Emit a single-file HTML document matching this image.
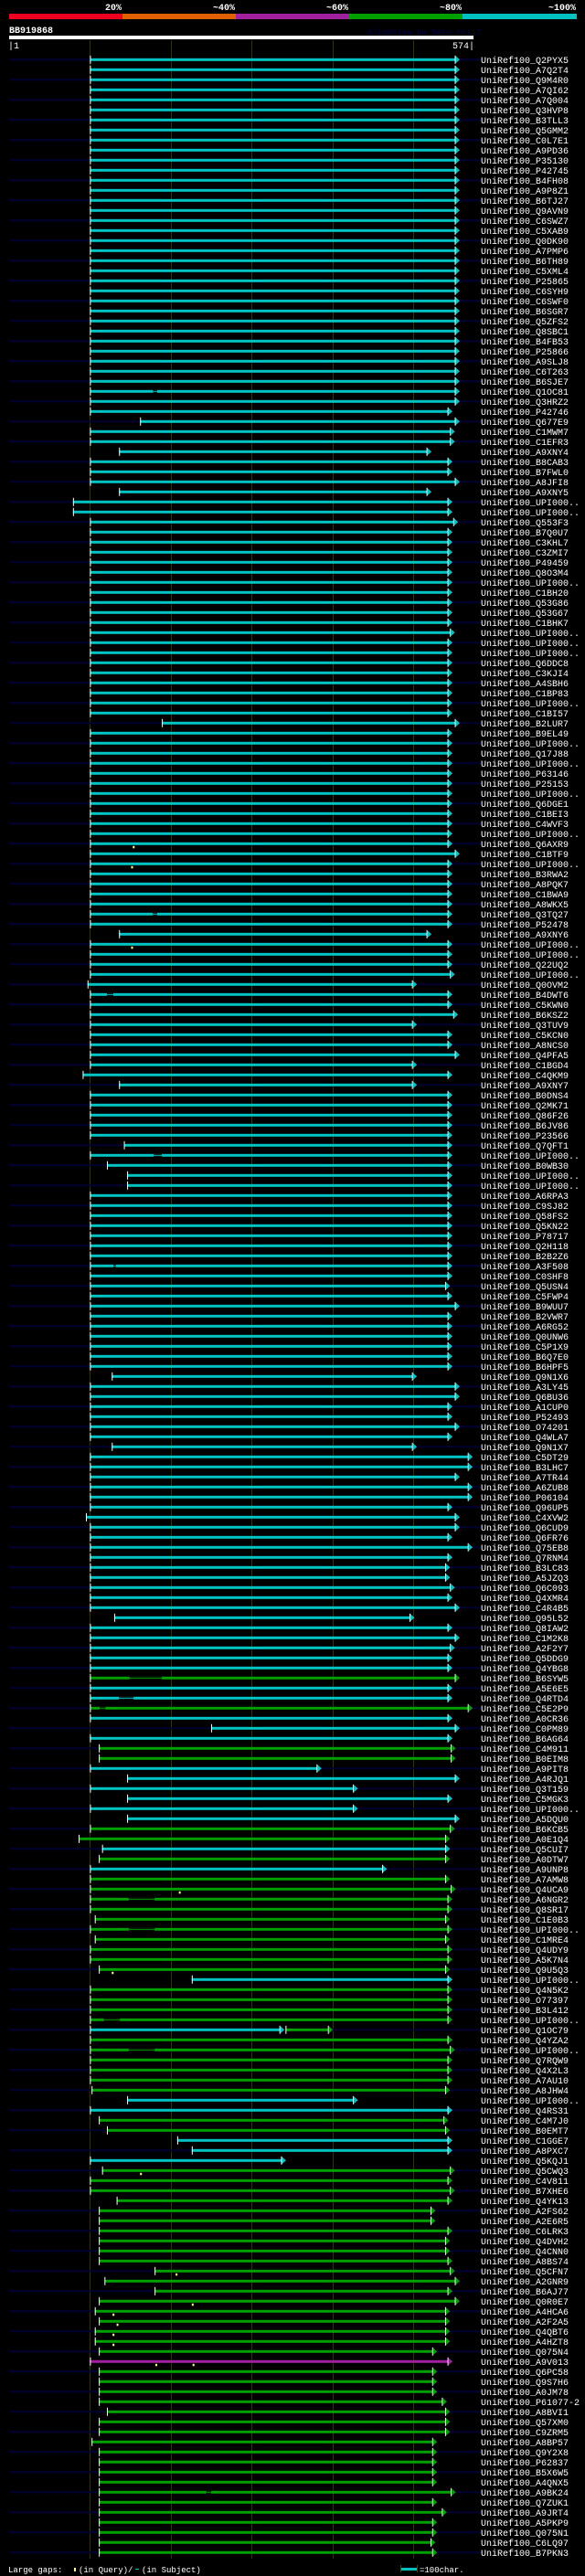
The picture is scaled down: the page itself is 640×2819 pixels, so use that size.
<!DOCTYPE html>
<html><head><meta charset="utf-8"><style>
html,body{margin:0;padding:0;background:#000;}
svg{display:block;}
text{font-family:"Liberation Mono",monospace;}
</style></head><body>
<svg id="chart" width="640" height="2819" viewBox="0 0 640 2819" xmlns="http://www.w3.org/2000/svg">
<rect x="0" y="0" width="640" height="2819" fill="#000"/>
<g>
<text x="133" y="11" text-anchor="end" font-size="10" font-weight="bold" fill="#fff">20%</text>
<text x="257" y="11" text-anchor="end" font-size="10" font-weight="bold" fill="#fff">~40%</text>
<text x="381" y="11" text-anchor="end" font-size="10" font-weight="bold" fill="#fff">~60%</text>
<text x="505" y="11" text-anchor="end" font-size="10" font-weight="bold" fill="#fff">~80%</text>
<text x="630" y="11" text-anchor="end" font-size="10" font-weight="bold" fill="#fff">~100%</text>
<rect x="10" y="15" width="124" height="6" fill="#f00020"/>
<rect x="134" y="15" width="124" height="6" fill="#e06000"/>
<rect x="258" y="15" width="124" height="6" fill="#a020a0"/>
<rect x="382" y="15" width="124" height="6" fill="#00a000"/>
<rect x="506" y="15" width="125" height="6" fill="#00c0c0"/>
</g>
<text x="10" y="36" font-size="10" font-weight="bold" fill="#fff">BB919868</text>
<text x="402" y="38" font-size="9" fill="#000050">AlignView.pm Beta rel.7</text>
<rect x="10" y="39" width="508" height="4" fill="#fff"/>
<text x="9" y="53" font-size="10" fill="#fff">|1</text>
<text x="519" y="53" text-anchor="end" font-size="10" fill="#fff">574|</text>
<g id="grid"></g>
<g id="rows"></g>
<g>
<text x="9" y="2815" font-size="9" fill="#fff">Large gaps:</text>
<rect x="81" y="2810" width="2" height="4" fill="#ffff80"/>
<text x="86" y="2815" font-size="9" fill="#fff">(in Query)/</text>
<rect x="148" y="2811" width="4" height="1" fill="#00c0c0"/>
<text x="155" y="2815" font-size="9" fill="#fff">(in Subject)</text>
<rect x="439" y="2810" width="17" height="3" fill="#00c0c0"/>
<rect x="438" y="2807" width="1" height="8" fill="#444400"/>
<rect x="456" y="2807" width="1" height="8" fill="#444400"/>
<text x="459" y="2815" font-size="9" fill="#fff">=100char.</text>
</g>
</svg>
<script>
const queryLength = 574;
const gridTicks = [100, 200, 300, 400, 500];
const names = ("Q2PYX5 A7Q2T4 Q9M4R0 A7QI62 A7Q004 Q3HVP8 B3TLL3 Q5GMM2 C0L7E1 A9PD36 " +
"P35130 P42745 B4FH08 A9P8Z1 B6TJ27 Q9AVN9 C6SWZ7 C5XAB9 Q0DK90 A7PMP6 " +
"B6TH89 C5XML4 P25865 C6SYH9 C6SWF0 B6SGR7 Q5ZFS2 Q8SBC1 B4FB53 P25866 " +
"A9SLJ8 C6T263 B6SJE7 Q1OC81 Q3HRZ2 P42746 Q677E9 C1MWM7 C1EFR3 A9XNY4 " +
"B8CAB3 B7FWL0 A8JFI8 A9XNY5 UPI000.. UPI000.. Q553F3 B7Q0U7 C3KHL7 C3ZMI7 " +
"P49459 Q8O3M4 UPI000.. C1BH20 Q53G86 Q53G67 C1BHK7 UPI000.. UPI000.. UPI000.. " +
"Q6DDC8 C3KJI4 A4SBH6 C1BP83 UPI000.. C1BI57 B2LUR7 B9EL49 UPI000.. Q17J88 " +
"UPI000.. P63146 P25153 UPI000.. Q6DGE1 C1BEI3 C4WVF3 UPI000.. Q6AXR9 C1BTF9 " +
"UPI000.. B3RWA2 A8PQK7 C1BWA9 A8WKX5 Q3TQ27 P52478 A9XNY6 UPI000.. UPI000.. " +
"Q22UQ2 UPI000.. Q0OVM2 B4DWT6 C5KWN0 B6KSZ2 Q3TUV9 C5KCN0 A8NCS0 Q4PFA5 " +
"C1BGD4 C4QKM9 A9XNY7 B0DNS4 Q2MK71 Q86F26 B6JV86 P23566 Q7QFT1 UPI000.. " +
"B0WB30 UPI000.. UPI000.. A6RPA3 C9SJ82 Q58FS2 Q5KN22 P78717 Q2H118 B2B2Z6 " +
"A3F508 C0SHF8 Q5USN4 C5FWP4 B9WUU7 B2VWR7 A6RG52 Q0UNW6 C5P1X9 B6Q7E0 " +
"B6HPF5 Q9N1X6 A3LY45 Q6BU36 A1CUP0 P52493 O74201 Q4WLA7 Q9N1X7 C5DT29 " +
"B3LHC7 A7TR44 A6ZUB8 P06104 Q96UP5 C4XVW2 Q6CUD9 Q6FR76 Q75EB8 Q7RNM4 " +
"B3LC83 A5JZQ3 Q6C093 Q4XMR4 C4R4B5 Q95L52 Q8IAW2 C1M2K8 A2F2Y7 Q5DDG9 " +
"Q4YBG8 B6SYW5 A5E6E5 Q4RTD4 C5E2P9 A0CR36 C0PM89 B6AG64 C4M911 B0EIM8 " +
"A9PIT8 A4RJQ1 Q3T159 C5MGK3 UPI000.. A5DQU0 B6KCB5 A0E1Q4 Q5CUI7 A0DTW7 " +
"A9UNP8 A7AMW8 Q4UCA9 A6NGR2 Q8SR17 C1E0B3 UPI000.. C1MRE4 Q4UDY9 A5K7N4 " +
"Q9U5Q3 UPI000.. Q4N5K2 O77397 B3L412 UPI000.. Q1OC79 Q4YZA2 UPI000.. Q7RQW9 " +
"Q4X2L3 A7AU10 A8JHW4 UPI000.. Q4RS31 C4M7J0 B0EMT7 C1GGE7 A8PXC7 Q5KQJ1 " +
"Q5CWQ3 C4V811 B7XHE6 Q4YK13 A2FS62 A2E6R5 C6LRK3 Q4DVH2 Q4CNN0 A8BS74 " +
"Q5CFN7 A2GNR9 B6AJ77 Q0R0E7 A4HCA6 A2F2A5 Q4QBT6 A4HZT8 Q075N4 A9V013 " +
"Q6PC58 Q9S7H6 A0JM78 P61077-2 A8BVI1 Q57XM0 C9ZRM5 A8BP57 Q9Y2X8 P62837 " +
"B5X6W5 A4QNX5 A9BK24 Q7ZUK1 A9JRT4 A5PKP9 Q075N1 C6LQ97 B7PKN3").split(" ");
const starts = [
100,100,100,100,100,100,100,100,100,100,
100,100,100,100,100,100,100,100,100,100,
100,100,100,100,100,100,100,100,100,100,
100,100,100,100,100,100,162,100,100,136,
100,100,100,136,79,79,100,100,100,100,
100,100,100,100,100,100,100,100,100,100,
100,100,100,100,100,100,189,100,100,100,
100,100,100,100,100,100,100,100,100,100,
100,100,100,100,100,100,100,136,100,100,
100,100,97,100,100,100,100,100,100,100,
100,91,136,100,100,100,100,100,142,100,
121,146,146,100,100,100,100,100,100,100,
100,100,100,100,100,100,100,100,100,100,
100,127,100,100,100,100,100,100,127,100,
100,100,100,100,100,95,100,100,100,100,
100,100,100,100,100,130,100,100,100,100,
100,100,100,100,100,100,250,100,111,111,
100,146,100,146,100,146,100,86,115,111,
100,100,100,100,100,106,100,106,100,100,
111,226,100,100,100,100,100,100,100,100,
100,100,102,146,100,111,121,208,226,100,
115,100,100,133,111,111,111,111,111,111,
180,118,180,111,106,111,106,106,111,100,
111,111,111,111,121,111,111,102,111,111,
111,111,111,111,111,111,111,111,111];
const ends = [
552,552,552,552,552,552,552,552,552,552,
552,552,552,552,552,552,552,552,552,552,
552,552,552,552,552,552,552,552,552,552,
552,552,552,552,552,543,552,546,546,517,
543,543,552,517,543,543,550,543,543,543,
543,543,543,543,543,543,543,546,543,543,
543,543,543,543,543,543,552,543,543,543,
543,543,543,543,543,543,543,543,543,552,
543,543,543,543,543,543,543,517,543,543,
543,546,499,543,543,550,499,543,543,552,
499,543,499,543,543,543,543,543,543,543,
543,543,543,543,543,543,543,543,543,543,
543,543,540,543,552,543,543,543,543,543,
543,499,552,552,543,543,552,543,499,568,
568,552,568,568,543,552,552,543,568,543,
540,540,546,543,552,496,543,552,546,543,
543,552,543,543,568,543,552,543,547,547,
381,552,426,543,426,552,546,540,540,540,
462,540,547,543,543,540,543,540,543,543,
540,543,543,543,543,543,335,543,546,543,
543,543,540,426,543,538,540,543,543,337,
546,543,546,543,522,522,543,540,540,543,
546,552,543,552,540,540,540,540,524,543,
524,524,524,536,540,540,540,524,524,524,
524,524,547,524,536,524,524,522,524];
const colors = ("cccccccccccccccccccccccccccccccccccccccccccccccccccccccccccccccccccccccccccccccc" +
"cccccccccccccccccccccccccccccccccccccccccccccccccccccccccccccccccccccccccccccccc" +
"cgccgcccgg" + "ccccccggcg" + "cggggggggg" + "gcggggcggg" + "gggccggccc" +
"gggggggggg" + "gggggggggm" + "gggggggggg" + "ggggggggg").split("");
const gaps = {33:[[178,183]],85:[[178,183]],93:[[121,129]],109:[[179,189]],120:[[129,132]],
161:[[149,189]],163:[[136,154]],164:[[112,119]],183:[[148,180]],186:[[148,180]],
195:[[117,137]],198:[[148,180]],242:[[244,250]]};
const inserts = {78:[153],80:[151],88:[151],182:[210],190:[127],210:[162],220:[206],
223:[226],224:[128],225:[133],226:[128],227:[128],229:[181,227]};
const extraSeg = {196:[342,395,"g"]};

const palette = {c:"#00c4c4", g:"#00a000", m:"#a020a0"};
const NS = "http://www.w3.org/2000/svg";
const X0 = 10, X1 = 517.5;
function xs(c){ return X0 + c * (X1 - X0) / queryLength; }
function rowY(i){ return 65.3 + i * 11; }
function mk(tag, attrs, parent){
  const el = document.createElementNS(NS, tag);
  for (const k in attrs) el.setAttribute(k, attrs[k]);
  parent.appendChild(el);
  return el;
}
const grid = document.getElementById("grid");
gridTicks.forEach(t => {
  const l = mk("rect", {x: Math.round(xs(t)), y: 44, width: 1, height: 2756, fill: "#333300"}, grid);
  
  
});
const rows = document.getElementById("rows");
function drawSeg(g, s, e, col, cy, gl){
  const a = xs(s), b = xs(e);
  const bar = mk("rect", {x: a, y: cy - 1.5, width: Math.max(0, b - a), height: 3, fill: col}, g);
  
  
  (gl || []).forEach(gp => {
    const ga = xs(gp[0]), gb = xs(gp[1]);
    const cut = mk("rect", {x: ga, y: cy - 1.5, width: gb - ga, height: 3, fill: "#000"}, g);
    
    
    const thin = mk("rect", {x: ga, y: cy - 0.5, width: gb - ga, height: 1, fill: col}, g);
    
    
  });
  const tick = mk("rect", {x: a, y: cy - 4.5, width: 1, height: 9, fill: "#fff"}, g);
  
  
  const base = mk("rect", {x: b - 0.5, y: cy - 4.5, width: 1, height: 9, fill: "#fff"}, g);
  
  
  const arr = mk("polygon", {points: (b + 0.5) + "," + (cy - 4) + " " + (b + 5) + "," + cy + " " + (b + 0.5) + "," + (cy + 4), fill: col}, g);
  
  
}
for (let i = 0; i < names.length; i++) {
  const cy = rowY(i);
  const g = mk("g", {}, rows);
  
  
  if (i % 2 === 0) {
    const bg = mk("rect", {x: 10, y: cy - 1, width: 517, height: 2, fill: "#000033"}, g);
    
    
  }
  const col = palette[colors[i]] || palette.c;
  drawSeg(g, starts[i], ends[i], col, cy, gaps[i]);
  if (extraSeg[i]) drawSeg(g, extraSeg[i][0], extraSeg[i][1], palette[extraSeg[i][2]], cy, null);
  (inserts[i] || []).forEach(p => {
    const m = mk("rect", {x: xs(p), y: cy + 2.5, width: 2, height: 2.5, fill: "#ffff80"}, g);
    
    
  });
  const t = mk("text", {x: 526, y: cy + 3.5, "font-size": 10, fill: "#fff"}, g);
  t.textContent = "UniRef100_" + names[i];
  
  
}
</script>
</body></html>
